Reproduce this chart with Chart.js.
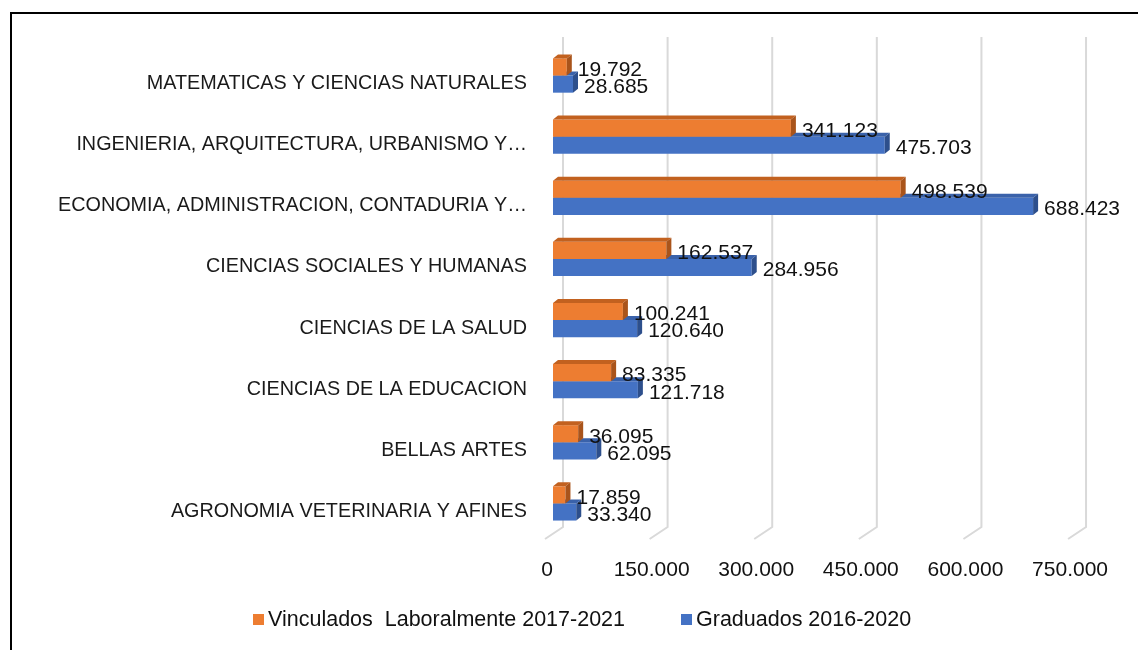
<!DOCTYPE html>
<html>
<head>
<meta charset="utf-8">
<script src="https://cdn.jsdelivr.net/npm/chart.js@4"></script>
<style>
  body { margin: 0; background: #fff; }
  #wrap { position: relative; width: 1138px; height: 650px; overflow: hidden; }
  #frame { position: absolute; left: 10px; top: 12px; right: -10px; bottom: -10px;
           border-left: 2px solid #000; border-top: 2px solid #000; }
  #chart { position: absolute; left: 0; top: 0; }
  #legend { position: absolute; left: 253px; top: 607px; display: flex; gap: 56px;
            font: 21.5px "Liberation Sans", Arial, sans-serif; color: #111; white-space: pre; }
  #legend span.box { display: inline-block; width: 11px; height: 11px; margin-right: 4px; vertical-align: 1px; }
</style>
</head>
<body>
<div id="wrap">
  <div id="frame"></div>
  <canvas id="chart" width="1138" height="650"></canvas>
  <div id="legend"></div>
</div>
<script>
// categories, top to bottom
const categories = [
  'MATEMATICAS Y CIENCIAS NATURALES',
  'INGENIERIA, ARQUITECTURA, URBANISMO Y…',
  'ECONOMIA, ADMINISTRACION, CONTADURIA Y…',
  'CIENCIAS SOCIALES Y HUMANAS',
  'CIENCIAS DE LA SALUD',
  'CIENCIAS DE LA EDUCACION',
  'BELLAS ARTES',
  'AGRONOMIA VETERINARIA Y AFINES'
];
const vinculados = [19792, 341123, 498539, 162537, 100241, 83335, 36095, 17859];
const graduados = [28685, 475703, 688423, 284956, 120640, 121718, 62095, 33340];
const xTicks = [0, 150000, 300000, 450000, 600000, 750000];
const seriesNames = ['Vinculados  Laboralmente 2017-2021', 'Graduados 2016-2020'];

const FONT = '"Liberation Sans", Arial, sans-serif';
const DX = 5, DY = 4; // bar depth

function fmt(v) {
  return String(v).replace(/\B(?=(\d{3})+(?!\d))/g, '.');
}

// 3d faces for the bars
const bars3d = {
  id: 'bars3d',
  afterDatasetDraw(chart, args) {
    const ctx = chart.ctx;
    const ds = chart.data.datasets[args.index];
    args.meta.data.forEach(bar => {
      const top = bar.y - bar.height / 2, bottom = bar.y + bar.height / 2;
      ctx.save();
      ctx.fillStyle = ds.topColor;
      ctx.beginPath();
      ctx.moveTo(bar.base, top);
      ctx.lineTo(bar.x, top);
      ctx.lineTo(bar.x + DX, top - DY);
      ctx.lineTo(bar.base + DX, top - DY);
      ctx.closePath();
      ctx.fill();
      ctx.fillStyle = ds.sideColor;
      ctx.beginPath();
      ctx.moveTo(bar.x, top);
      ctx.lineTo(bar.x + DX, top - DY);
      ctx.lineTo(bar.x + DX, bottom - DY);
      ctx.lineTo(bar.x, bottom);
      ctx.closePath();
      ctx.fill();
      ctx.restore();
    });
  },
  beforeDatasetsDraw(chart) {
    // back wall grid lines with a floor tail
    const ctx = chart.ctx, x = chart.scales.x;
    ctx.save();
    ctx.strokeStyle = '#d9d9d9';
    ctx.lineWidth = 2;
    xTicks.forEach(v => {
      const px = x.getPixelForValue(v) + 10;
      ctx.beginPath();
      ctx.moveTo(px, 37);
      ctx.lineTo(px, 527);
      ctx.lineTo(px - 18, 539);
      ctx.stroke();
    });
    ctx.restore();
  },
  afterDraw(chart) {
    const ctx = chart.ctx;
    ctx.save();
    ctx.font = '21px ' + FONT;
    ctx.fillStyle = '#111';
    ctx.textAlign = 'left';
    ctx.textBaseline = 'middle';
    chart.data.datasets.forEach((ds, i) => {
      chart.getDatasetMeta(i).data.forEach((bar, j) => {
        ctx.fillText(fmt(ds.data[j]), bar.x + DX + 6, bar.y + 3);
      });
    });
    ctx.restore();
  }
};

new Chart(document.getElementById('chart'), {
  type: 'bar',
  data: {
    labels: categories,
    datasets: [
      { label: seriesNames[0], data: vinculados, backgroundColor: '#ED7D31',
        topColor: '#C2611F', sideColor: '#A9541B' },
      { label: seriesNames[1], data: graduados, backgroundColor: '#4472C4',
        topColor: '#3A62AA', sideColor: '#2D4F8C' }
    ]
  },
  options: {
    indexAxis: 'y',
    responsive: false,
    animation: false,
    categoryPercentage: 0.56,
    barPercentage: 1,
    layout: { padding: { top: 45, right: 60, bottom: 50, left: 0 } },
    plugins: {
      legend: { display: false },
      tooltip: { enabled: false }
    },
    scales: {
      x: {
        min: 0, max: 750000,
        afterBuildTicks: s => { s.ticks = xTicks.map(v => ({ value: v })); },
        afterFit: s => { s.height = 66; },
        grid: { display: false, drawTicks: false },
        border: { display: false },
        ticks: {
          padding: 24, labelOffset: -6, color: '#111',
          font: { family: FONT, size: 21 },
          callback: v => fmt(v)
        }
      },
      y: {
        afterFit: s => { s.width = 553; },
        grid: { display: false, drawTicks: false },
        border: { display: false },
        ticks: {
          padding: 26, labelOffset: 8, color: '#1a1a1a',
          font: { family: FONT, size: 19.8 },
          autoSkip: false
        }
      }
    }
  },
  plugins: [bars3d]
});

// legend
const legend = document.getElementById('legend');
['#ED7D31', '#4472C4'].forEach((c, i) => {
  const item = document.createElement('div');
  item.innerHTML = '<span class="box" style="background:' + c + '"></span>';
  item.appendChild(document.createTextNode(seriesNames[i]));
  legend.appendChild(item);
});
</script>
</body>
</html>
